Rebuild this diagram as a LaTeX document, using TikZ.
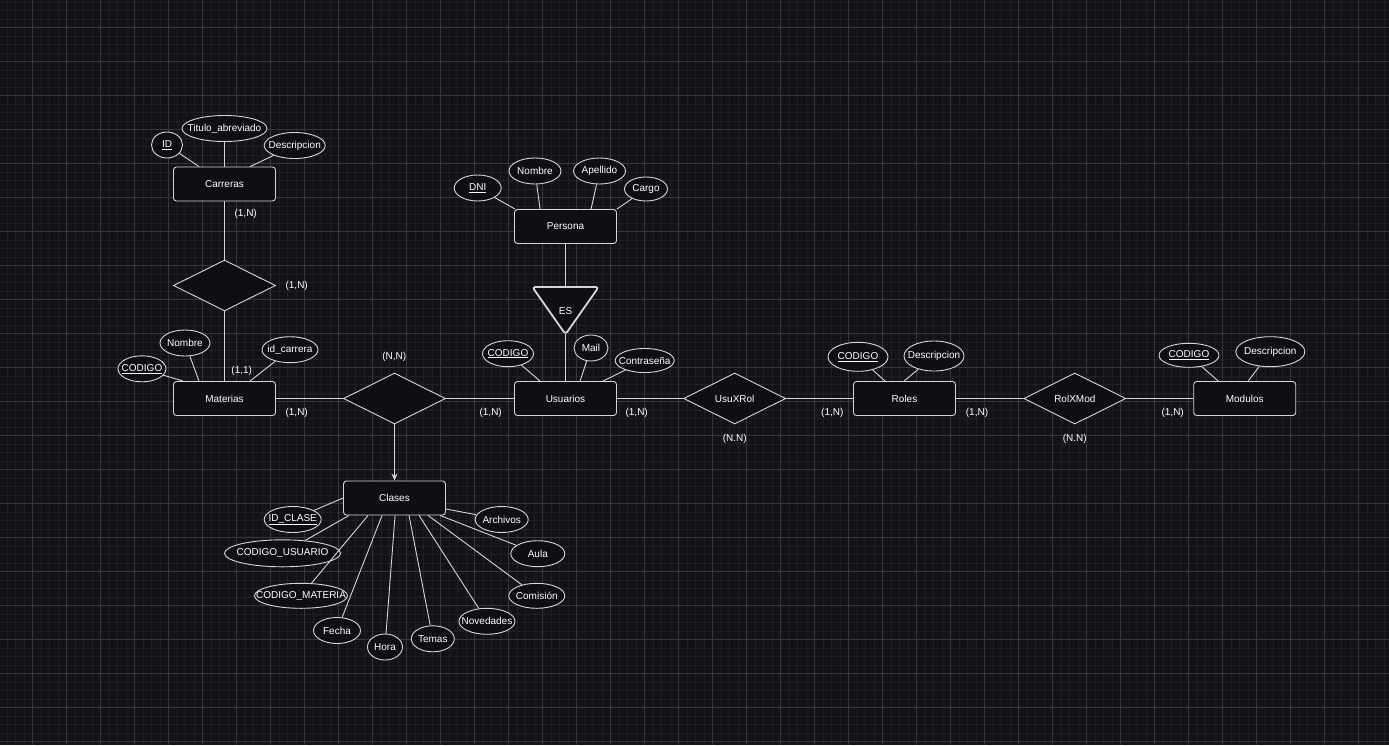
\documentclass[tikz,border=0pt]{standalone}
\usepackage{fontspec}
\setmainfont{Liberation Sans}
\usepackage{tikz}
\usepackage{xcolor}
\usetikzlibrary{shapes,arrows.meta,positioning,calc}
\definecolor{fondo}{RGB}{20,17,25}
\definecolor{relleno}{RGB}{17,13,21}
\definecolor{trazo}{RGB}{215,213,218}
\definecolor{rejilla}{RGB}{33,30,39}
\definecolor{rejillamayor}{RGB}{56,53,62}

\tikzset{
  entidad/.style={rectangle, draw=trazo, fill=relleno, rounded corners=3pt, line width=0.9pt,
    minimum width=102pt, minimum height=34pt, inner sep=0pt},
  atributo/.style={ellipse, draw=trazo, fill=relleno, line width=0.9pt, inner sep=0pt},
  relacion/.style={diamond, draw=trazo, fill=relleno, line width=0.9pt,
    minimum width=102pt, minimum height=51pt, inner sep=0pt},
  card/.style={inner sep=0pt},
  linea/.style={draw=trazo, line width=0.9pt},
  every label/.style={text=white, inner sep=0pt}
}

\begin{document}
\begin{tikzpicture}[x=1pt, y=-1pt, text=white, font=\fontsize{10}{12}\selectfont]
  \useasboundingbox (0,0) rectangle (1389,745);
  \fill[fondo] (0,0) rectangle (1389,745);
  % rejilla
  \foreach \gx in {0,...,163} \draw[rejilla, line width=0.6pt] (7.2+8.5*\gx,0) -- (7.2+8.5*\gx,745);
  \foreach \gy in {0,...,88} \draw[rejilla, line width=0.6pt] (0,1.8+8.5*\gy) -- (1389,1.8+8.5*\gy);
  \foreach \gx in {0,...,40} \draw[rejillamayor, line width=0.6pt] (32.7+34*\gx,0) -- (32.7+34*\gx,745);
  \foreach \gy in {0,...,21} \draw[rejillamayor, line width=0.6pt] (0,27.3+34*\gy) -- (1389,27.3+34*\gy);

  % entidades
  \node[entidad] (carreras) at (224.5,184) {Carreras};
  \node[entidad] (materias) at (224.5,398.5) {Materias};
  \node[entidad] (persona) at (565.5,226.5) {Persona};
  \node[entidad] (usuarios) at (565.5,398.5) {Usuarios};
  \node[entidad] (roles) at (904.5,398.5) {Roles};
  \node[entidad] (modulos) at (1244.7,398.5) {Modulos};
  \node[entidad] (clases) at (394.5,498) {Clases};

  % relaciones
  \node[relacion] (carmat) at (224.5,285.5) {};
  \node[relacion] (cursa) at (394.5,398.5) {};
  \node[relacion] (usuxrol) at (734.7,398.5) {UsuXRol};
  \node[relacion] (rolxmod) at (1074.8,398.5) {RolXMod};

  % ES
  \coordinate (estop) at (565.5,287);
  \coordinate (esbot) at (565.5,334.3);
  \draw[draw=trazo, fill=relleno, line width=1.8pt, rounded corners=3pt, line join=round]
    (532.3,287) -- (598.7,287) -- (esbot) -- cycle;
  \node (es) at (565.5,311) {ES};

  % atributos Carreras
  \node[atributo, minimum width=31pt, minimum height=26pt, label=center:\underline{ID}] (carid) at (167,145) {};
  \node[atributo, minimum width=85pt, minimum height=26pt, label=center:Titulo\_abreviado] (cartit) at (224.5,128.5) {};
  \node[atributo, minimum width=61pt, minimum height=26pt, label=center:Descripcion] (cardesc) at (294.7,145.5) {};
  % atributos Materias
  \node[atributo, minimum width=48pt, minimum height=26pt, label=center:\underline{CODIGO}] (matcod) at (142,368.8) {};
  \node[atributo, minimum width=50pt, minimum height=26pt, label=center:Nombre] (matnom) at (185,343) {};
  \node[atributo, minimum width=56pt, minimum height=26pt, label=center:id\_carrera] (matcar) at (290,349.7) {};
  % atributos Persona
  \node[atributo, minimum width=47pt, minimum height=26pt, label=center:\underline{DNI}] (perdni) at (477.7,188) {};
  \node[atributo, minimum width=52pt, minimum height=26pt, label=center:Nombre] (pernom) at (535,171) {};
  \node[atributo, minimum width=52pt, minimum height=26pt, label=center:Apellido] (perape) at (599.5,171) {};
  \node[atributo, minimum width=43pt, minimum height=24pt, label=center:Cargo] (percar) at (646,189) {};
  % atributos Usuarios
  \node[atributo, minimum width=51pt, minimum height=26pt, label=center:\underline{CODIGO}] (usucod) at (508,353.7) {};
  \node[atributo, minimum width=34pt, minimum height=26pt, label=center:Mail] (usumail) at (591,348) {};
  \node[atributo, minimum width=59pt, minimum height=24pt, label=center:Contraseña] (usupass) at (644.7,360.5) {};
  % atributos Roles
  \node[atributo, minimum width=60pt, minimum height=29pt, label=center:\underline{CODIGO}] (rolcod) at (858,356.8) {};
  \node[atributo, minimum width=60pt, minimum height=30pt, label=center:Descripcion] (roldesc) at (934,356) {};
  % atributos Modulos
  \node[atributo, minimum width=60pt, minimum height=24pt, label=center:\underline{CODIGO}] (modcod) at (1189,355.3) {};
  \node[atributo, minimum width=69pt, minimum height=30pt, label=center:Descripcion] (moddesc) at (1270.3,351.7) {};
  % atributos Clases
  \node[atributo, minimum width=57pt, minimum height=26pt, label=center:\underline{ID\_CLASE}] (clid) at (292.7,519.5) {};
  \node[atributo, minimum width=116pt, minimum height=27pt, label=center:CODIGO\_USUARIO] (clusu) at (282.5,553.3) {};
  \node[atributo, minimum width=93pt, minimum height=25pt, label=center:CODIGO\_MATERIA] (clmat) at (301,595.8) {};
  \node[atributo, minimum width=47pt, minimum height=26pt, label=center:Fecha] (clfecha) at (337,630.5) {};
  \node[atributo, minimum width=35pt, minimum height=26pt, label=center:Hora] (clhora) at (385,647) {};
  \node[atributo, minimum width=43pt, minimum height=26pt, label=center:Temas] (cltemas) at (432.8,638.8) {};
  \node[atributo, minimum width=56pt, minimum height=26pt, label=center:Novedades] (clnov) at (487,621.3) {};
  \node[atributo, minimum width=56pt, minimum height=25pt, label=center:Comisión] (clcom) at (536.8,595.8) {};
  \node[atributo, minimum width=54pt, minimum height=26pt, label=center:Aula] (claula) at (537.8,553.7) {};
  \node[atributo, minimum width=53pt, minimum height=26pt, label=center:Archivos] (clarch) at (501.7,519.5) {};

  % cardinalidades
  \node[card] (c1) at (245.7,214) {(1,N)};
  \node[card] (c2) at (296.7,285.7) {(1,N)};
  \node[card] (c3) at (241.7,370.7) {(1,1)};
  \node[card] (c4) at (296.7,412.7) {(1,N)};
  \node[card] (c5) at (394.3,357.3) {(N,N)};
  \node[card] (c6) at (490.7,412.5) {(1,N)};
  \node[card] (c7) at (636.7,412.5) {(1,N)};
  \node[card] (c8) at (734.7,438.7) {(N.N)};
  \node[card] (c9) at (832.3,412.7) {(1,N)};
  \node[card] (c10) at (977,412.7) {(1,N)};
  \node[card] (c11) at (1074.7,438.7) {(N.N)};
  \node[card] (c12) at (1172.7,412.7) {(1,N)};

  % conectores
  \draw[linea] (carreras) -- (carmat);
  \draw[linea] (carmat) -- (materias);
  \draw[linea] (materias) -- (cursa);
  \draw[linea] (cursa) -- (usuarios);
  \draw[linea, -{Stealth[length=7pt, width=6pt]}] (cursa) -- (clases);
  \draw[linea] (persona) -- (estop);
  \draw[linea] (esbot) -- (usuarios);
  \draw[linea] (usuarios) -- (usuxrol);
  \draw[linea] (usuxrol) -- (roles);
  \draw[linea] (roles) -- (rolxmod);
  \draw[linea] (rolxmod) -- (modulos);

  \draw[linea] (carid) -- ([xshift=26pt]carreras.north west);
  \draw[linea] (cartit) -- (carreras);
  \draw[linea] (cardesc) -- ([xshift=77pt]carreras.north west);
  \draw[linea] (matcod) -- ([xshift=10pt]materias.north west);
  \draw[linea] (matnom) -- ([xshift=26pt]materias.north west);
  \draw[linea] (matcar) -- ([xshift=77pt]materias.north west);
  \draw[linea] (perdni) -- ([xshift=1pt]persona.north west);
  \draw[linea] (pernom) -- ([xshift=26pt]persona.north west);
  \draw[linea] (perape) -- ([xshift=77pt]persona.north west);
  \draw[linea] (percar) -- (persona.north east);
  \draw[linea] (usucod) -- ([xshift=26pt]usuarios.north west);
  \draw[linea] (usumail) -- ([xshift=66pt]usuarios.north west);
  \draw[linea] (usupass) -- ([xshift=89pt]usuarios.north west);
  \draw[linea] (rolcod) -- ([xshift=32pt]roles.north west);
  \draw[linea] (roldesc) -- ([xshift=51pt]roles.north west);
  \draw[linea] (modcod) -- ([xshift=25pt]modulos.north west);
  \draw[linea] (moddesc) -- ([xshift=55pt]modulos.north west);

  \draw[linea] (clid) -- (clases.west);
  \draw[linea] (clusu) -- ([xshift=6pt]clases.south west);
  \draw[linea] (clmat) -- ([xshift=25pt]clases.south west);
  \draw[linea] (clfecha) -- ([xshift=39pt]clases.south west);
  \draw[linea] (clhora) -- ([xshift=52pt]clases.south west);
  \draw[linea] (cltemas) -- ([xshift=66pt]clases.south west);
  \draw[linea] (clnov) -- ([xshift=76pt]clases.south west);
  \draw[linea] (clcom) -- ([xshift=85pt]clases.south west);
  \draw[linea] (claula) -- ([xshift=97pt]clases.south west);
  \draw[linea] (clarch) -- ([yshift=-11pt]clases.east);
\end{tikzpicture}
\end{document}
